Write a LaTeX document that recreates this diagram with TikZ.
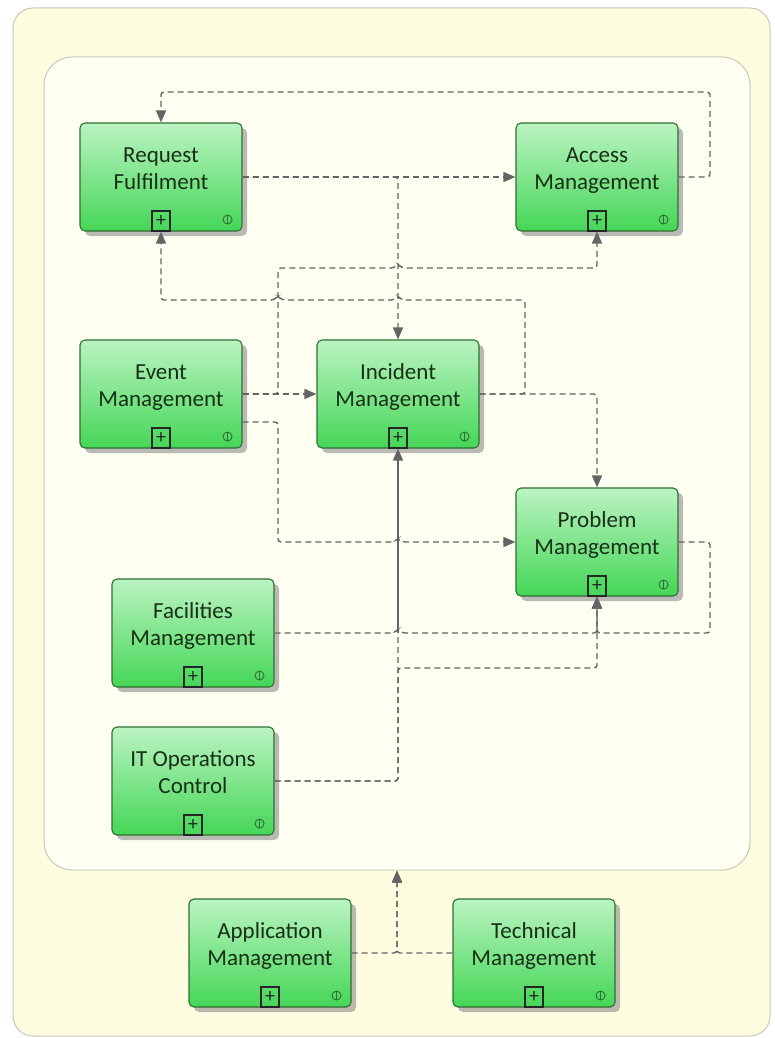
\documentclass[tikz,border=0pt]{standalone}
\usepackage{fontspec}
\setmainfont{Carlito}
\usetikzlibrary{arrows.meta, shadows}

\definecolor{boxtop}{HTML}{BBF4C2}
\definecolor{boxbot}{HTML}{44D656}
\definecolor{boxline}{HTML}{2F6F35}
\definecolor{boxtext}{HTML}{173017}
\definecolor{wire}{HTML}{646464}
\definecolor{paper}{HTML}{FFFDDF}
\definecolor{panel}{HTML}{FFFFF1}
\definecolor{rim}{HTML}{C9C8BA}

\tikzstyle{proc} = [rectangle, rounded corners=5pt, minimum width=162pt, minimum height=108pt, draw=boxline, line width=1.1pt, top color=boxtop, bottom color=boxbot, drop shadow={shadow xshift=5pt, shadow yshift=-5pt, fill=black!45, opacity=0.6}]
\tikzstyle{proctext} = [align=center, font=\fontsize{23}{27}\selectfont, text=boxtext, text depth=5pt, inner sep=0pt]
\tikzstyle{plusbox} = [rectangle, draw=black!85, line width=1.3pt, minimum width=18pt, minimum height=20pt, inner sep=0pt, font=\fontsize{20}{20}\selectfont, text=black!85]
\tikzstyle{icon} = [circle, draw=boxline, line width=0.9pt, minimum size=9pt, inner sep=0pt, path picture={\draw[boxline, line width=0.9pt] (path picture bounding box.north) -- (path picture bounding box.south);}]
\tikzstyle{link} = [draw=wire, line width=1.4pt, dash pattern=on 6pt off 4pt, rounded corners=3pt]
\tikzstyle{solidwire} = [draw=wire, line width=1.4pt]
\tikzstyle{arrowed} = [-{Triangle[length=12pt,width=10pt]}]

% one process box: name, x, y, text
\newcommand{\procbox}[4]{%
  \node (#1) [proc] at (#2,#3) {};
  \node (#1-txt) [proctext] at ([yshift=6pt]#1.center) {#4};
  \node (#1-plus) [plusbox, anchor=south] at (#1.south) {+};
  \node (#1-icon) [icon] at ([xshift=-15pt,yshift=12pt]#1.south east) {};
}

\begin{document}
\begin{tikzpicture}[x=1pt, y=-1pt]

\useasboundingbox (0,0) rectangle (775,1038);

\node (sheet) [rectangle, rounded corners=20pt, draw=rim, fill=paper, line width=1pt, minimum width=757pt, minimum height=1028pt] at (391.5,522) {};
\node (opsarea) [rectangle, rounded corners=28pt, draw=rim, fill=panel, line width=1pt, minimum width=706pt, minimum height=813pt] at (397,463.5) {};

\procbox{req}{161}{177}{Request\\Fulfilment}
\procbox{acc}{597}{177}{Access\\Management}
\procbox{evt}{161}{394}{Event\\Management}
\procbox{inc}{398}{394}{Incident\\Management}
\procbox{prb}{597}{542}{Problem\\Management}
\procbox{fac}{193}{633}{Facilities\\Management}
\procbox{itc}{193}{781}{IT Operations\\Control}
\procbox{app}{270}{953}{Application\\Management}
\procbox{tec}{534}{953}{Technical\\Management}

\coordinate (fjoin) at (398,633);

\draw[link, arrowed] (req.east) -- (acc.west);
\draw[link, arrowed] (req.east) -| (inc.north);
\draw[link, arrowed] (acc.east) -| (710,92) -| (req.north);

\draw[link, arrowed] (evt.east) -- (inc.west);
\draw[link, arrowed] (evt.east) -| (278,268) -- (394,268) -- (398,264) -- (402,268) -| (acc.south);
\draw[link, arrowed] ([yshift=-28pt]evt.east) -| (278,542) -- (394,542) -- (398,538) -- (402,542) -- (prb.west);

\draw[link, arrowed] (inc.east) -| (525,300) -- (402,300) -- (398,296) -- (394,300) -- (282,300) -- (278,296) -- (274,300) -| (req.south);
\draw[link, arrowed] (inc.east) -| (prb.north);

\draw[link, arrowed] (fac.east) -- (394,633) -- (398,629) -- (402,633) -| (prb.south);
\draw[link, arrowed] (prb.east) -| (710,633) -| (prb.south);

\draw[link, arrowed] (itc.east) -| (398,668) -| (prb.south);
\draw[link] (itc.east) -| (fjoin);
\draw[solidwire, arrowed] (fjoin) -- (inc.south);

\draw[link, arrowed] (app.east) -| (opsarea.south);
\draw[link, arrowed] (tec.west) -| (opsarea.south);

\end{tikzpicture}
\end{document}
